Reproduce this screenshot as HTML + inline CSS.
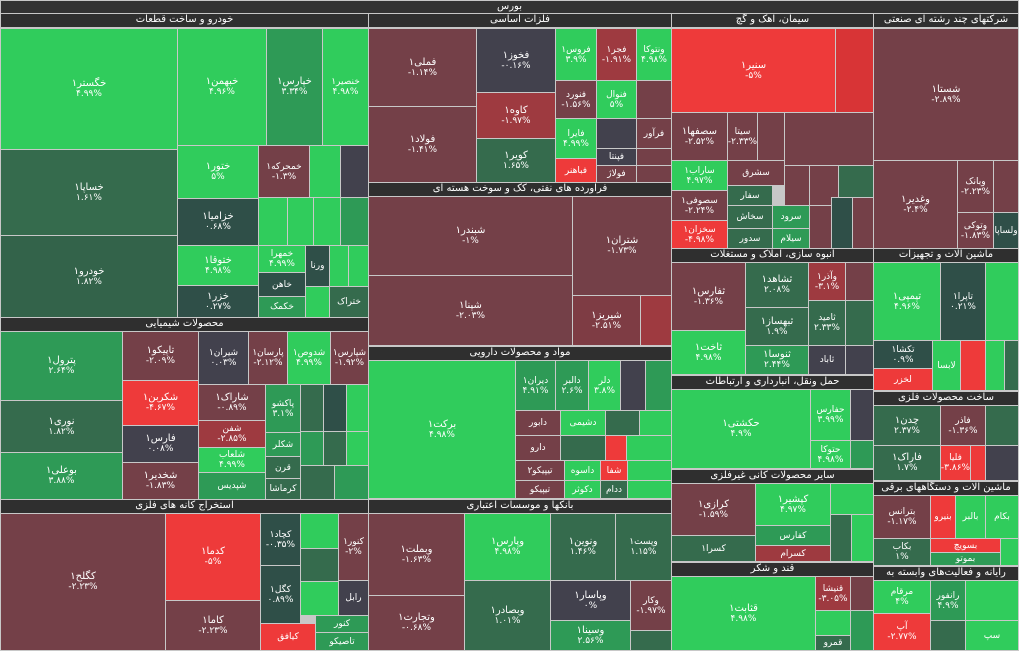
<!DOCTYPE html><html><head><meta charset="utf-8"><style>
body{margin:0;width:1019px;height:651px;background:#c8c8c8;overflow:hidden;position:relative;font-family:"DejaVu Sans","Liberation Sans",sans-serif}
div{position:absolute;box-sizing:border-box}
.c{border:1px solid #c8c8c8;display:flex;flex-direction:column;align-items:center;justify-content:center;color:#fff;font-size:9px;line-height:10px;overflow:hidden;text-align:center;direction:ltr}
.c b{font-weight:normal;font-size:10px}
.h{background:#2f2f2f;color:#fff;font-size:10px;border:1px solid #c8c8c8;text-align:center;line-height:12px;overflow:hidden;direction:rtl;white-space:nowrap}
.G{background:#30cc5c}.g2{background:#2e9a56}.g3{background:#356b4d}.g4{background:#2f4f48}.N{background:#42414d}.r3{background:#744048}.r2{background:#9e3a40}.R{background:#ee3a3a}
</style></head><body>
<div class="h" style="left:0;top:0;width:1019px;height:14px;background:#333">بورس</div>
<div class="h" style="left:0;top:13px;width:369px;height:15px">خودرو و ساخت قطعات</div>
<div class="h" style="left:0;top:317px;width:369px;height:15px">محصولات شیمیایی</div>
<div class="h" style="left:0;top:499px;width:369px;height:15px">استخراج کانه های فلزی</div>
<div class="h" style="left:368px;top:13px;width:304px;height:15px">فلزات اساسی</div>
<div class="h" style="left:368px;top:182px;width:304px;height:15px">فراورده های نفتی، کک و سوخت هسته ای</div>
<div class="h" style="left:368px;top:346px;width:304px;height:15px">مواد و محصولات دارویی</div>
<div class="h" style="left:368px;top:499px;width:304px;height:15px">بانکها و موسسات اعتباری</div>
<div class="h" style="left:671px;top:13px;width:203px;height:15px">سیمان، آهک و گچ</div>
<div class="h" style="left:873px;top:13px;width:146px;height:15px">شرکتهای چند رشته ای صنعتی</div>
<div class="h" style="left:671px;top:248px;width:203px;height:15px">انبوه سازی، املاک و مستغلات</div>
<div class="h" style="left:873px;top:248px;width:146px;height:15px">ماشین آلات و تجهیزات</div>
<div class="h" style="left:671px;top:375px;width:203px;height:15px">حمل ونقل، انبارداری و ارتباطات</div>
<div class="h" style="left:873px;top:391px;width:146px;height:15px">ساخت محصولات فلزی</div>
<div class="h" style="left:671px;top:469px;width:203px;height:15px">سایر محصولات کانی غیرفلزی</div>
<div class="h" style="left:873px;top:481px;width:146px;height:15px">ماشین آلات و دستگاههای برقی</div>
<div class="h" style="left:671px;top:562px;width:203px;height:15px">قند و شکر</div>
<div class="h" style="left:873px;top:566px;width:146px;height:15px">رایانه و فعالیت‌های وابسته به</div>

<div class="c G" style="left:0;top:28px;width:178px;height:122px"><b>خگستر۱</b>۴.۹۹%</div>
<div class="c g3" style="left:0;top:149px;width:178px;height:87px"><b>خساپا۱</b>۱.۶۱%</div>
<div class="c g3" style="left:0;top:235px;width:178px;height:83px;background:#33634a"><b>خودرو۱</b>۱.۸۲%</div>
<div class="c G" style="left:177px;top:28px;width:90px;height:118px"><b>خبهمن۱</b>۴.۹۶%</div>
<div class="c g2" style="left:266px;top:28px;width:57px;height:118px"><b>خپارس۱</b>۳.۳۴%</div>
<div class="c G" style="left:322px;top:28px;width:47px;height:118px">خنصیر۱<br>۴.۹۸%</div>
<div class="c G" style="left:177px;top:145px;width:82px;height:54px"><b>ختور۱</b>۵%</div>
<div class="c g4" style="left:177px;top:198px;width:82px;height:48px"><b>خزامیا۱</b>۰.۶۸%</div>
<div class="c G" style="left:177px;top:245px;width:82px;height:41px"><b>ختوقا۱</b>۴.۹۸%</div>
<div class="c g4" style="left:177px;top:285px;width:82px;height:33px"><b>خزر۱</b>۰.۲۷%</div>
<div class="c r3" style="left:258px;top:145px;width:52px;height:53px">خمحرکه۱<br>-۱.۳%</div>
<div class="c G" style="left:309px;top:145px;width:32px;height:53px"></div>
<div class="c N" style="left:340px;top:145px;width:29px;height:53px"></div>
<div class="c G" style="left:258px;top:197px;width:30px;height:49px"></div>
<div class="c G" style="left:287px;top:197px;width:27px;height:49px"></div>
<div class="c G" style="left:313px;top:197px;width:28px;height:49px"></div>
<div class="c g2" style="left:340px;top:197px;width:29px;height:49px"></div>
<div class="c G" style="left:258px;top:245px;width:48px;height:28px">خمهرا<br>۴.۹۹%</div>
<div class="c g4" style="left:258px;top:272px;width:48px;height:25px">خاهن</div>
<div class="c g2" style="left:258px;top:296px;width:48px;height:22px">خکمک</div>
<div class="c g4" style="left:305px;top:245px;width:25px;height:42px">ورنا</div>
<div class="c G" style="left:329px;top:245px;width:20px;height:42px"></div>
<div class="c G" style="left:348px;top:245px;width:21px;height:42px"></div>
<div class="c G" style="left:305px;top:286px;width:25px;height:32px"></div>
<div class="c g3" style="left:329px;top:286px;width:40px;height:32px">ختراک</div>

<div class="c g2" style="left:0;top:331px;width:123px;height:70px"><b>پترول۱</b>۲.۶۴%</div>
<div class="c g3" style="left:0;top:400px;width:123px;height:53px"><b>نوری۱</b>۱.۸۲%</div>
<div class="c g2" style="left:0;top:452px;width:123px;height:48px"><b>بوعلی۱</b>۳.۸۸%</div>
<div class="c r3" style="left:122px;top:331px;width:77px;height:50px"><b>تاپیکو۱</b>-۲.۰۹%</div>
<div class="c R" style="left:122px;top:380px;width:77px;height:46px"><b>شکربن۱</b>-۴.۶۷%</div>
<div class="c N" style="left:122px;top:425px;width:77px;height:38px"><b>فارس۱</b>۰.۰۸%</div>
<div class="c r3" style="left:122px;top:462px;width:77px;height:38px"><b>شخدیر۱</b>-۱.۸۳%</div>
<div class="c N" style="left:198px;top:331px;width:51px;height:54px">شیران۱<br>۰.۰۳%</div>
<div class="c r3" style="left:248px;top:331px;width:40px;height:54px">پارسان۱<br>-۲.۱۲%</div>
<div class="c G" style="left:287px;top:331px;width:44px;height:54px">شدوص۱<br>۴.۹۹%</div>
<div class="c r3" style="left:330px;top:331px;width:39px;height:54px">شپارس۱<br>-۱.۹۲%</div>
<div class="c r3" style="left:198px;top:384px;width:68px;height:37px"><b>شاراک۱</b>-۰.۸۹%</div>
<div class="c r2" style="left:198px;top:420px;width:68px;height:28px">شفن<br>-۲.۸۵%</div>
<div class="c G" style="left:198px;top:447px;width:68px;height:26px">شلعاب<br>۴.۹۹%</div>
<div class="c g2" style="left:198px;top:472px;width:68px;height:28px">شپدیس</div>
<div class="c g2" style="left:265px;top:384px;width:36px;height:49px">پاکشو<br>۳.۱%</div>
<div class="c g2" style="left:265px;top:432px;width:36px;height:25px">شکلر</div>
<div class="c g3" style="left:265px;top:456px;width:36px;height:23px">قرن</div>
<div class="c g3" style="left:265px;top:478px;width:36px;height:22px">کرماشا</div>
<div class="c g3" style="left:300px;top:384px;width:24px;height:48px"></div>
<div class="c g4" style="left:323px;top:384px;width:24px;height:48px"></div>
<div class="c G" style="left:346px;top:384px;width:23px;height:48px"></div>
<div class="c g2" style="left:300px;top:431px;width:24px;height:35px"></div>
<div class="c g3" style="left:323px;top:431px;width:24px;height:35px"></div>
<div class="c G" style="left:346px;top:431px;width:23px;height:35px"></div>
<div class="c g3" style="left:300px;top:465px;width:35px;height:35px"></div>
<div class="c g2" style="left:334px;top:465px;width:35px;height:35px"></div>

<div class="c r3" style="left:0;top:513px;width:166px;height:138px"><b>کگلح۱</b>-۲.۲۳%</div>
<div class="c R" style="left:165px;top:513px;width:96px;height:88px"><b>کدما۱</b>-۵%</div>
<div class="c r3" style="left:165px;top:600px;width:96px;height:51px"><b>کاما۱</b>-۲.۲۳%</div>
<div class="c g4" style="left:260px;top:513px;width:41px;height:53px">کچاد۱<br>-۰.۳۵%</div>
<div class="c g4" style="left:260px;top:565px;width:41px;height:59px">کگل۱<br>۰.۸۹%</div>
<div class="c R" style="left:260px;top:623px;width:56px;height:28px">کیافق</div>
<div class="c G" style="left:300px;top:513px;width:39px;height:36px"></div>
<div class="c g3" style="left:300px;top:548px;width:39px;height:34px"></div>
<div class="c G" style="left:300px;top:581px;width:39px;height:35px"></div>
<div class="c r3" style="left:338px;top:513px;width:31px;height:68px">کنور۱<br>-۲%</div>
<div class="c N" style="left:338px;top:580px;width:31px;height:36px">رابل</div>
<div class="c g2" style="left:315px;top:615px;width:54px;height:18px">کنور</div>
<div class="c g2" style="left:315px;top:632px;width:54px;height:19px">تاصیکو</div>

<div class="c r3" style="left:368px;top:28px;width:109px;height:79px"><b>فملی۱</b>-۱.۱۴%</div>
<div class="c r3" style="left:368px;top:106px;width:109px;height:77px"><b>فولاد۱</b>-۱.۴۱%</div>
<div class="c N" style="left:476px;top:28px;width:80px;height:65px"><b>فخوز۱</b>-۰.۱۶%</div>
<div class="c r2" style="left:476px;top:92px;width:80px;height:47px"><b>کاوه۱</b>-۱.۹۷%</div>
<div class="c g3" style="left:476px;top:138px;width:80px;height:45px"><b>کویر۱</b>۱.۶۵%</div>
<div class="c G" style="left:555px;top:28px;width:42px;height:53px">فروس۱<br>۳.۹%</div>
<div class="c r2" style="left:596px;top:28px;width:41px;height:53px">فجر۱<br>-۱.۹۱%</div>
<div class="c G" style="left:636px;top:28px;width:36px;height:53px">ونتوکا<br>۴.۹۸%</div>
<div class="c r3" style="left:555px;top:80px;width:42px;height:39px">فنورد<br>-۱.۵۶%</div>
<div class="c G" style="left:596px;top:80px;width:41px;height:39px">فنوال<br>۵%</div>
<div class="c r3" style="left:636px;top:80px;width:36px;height:39px"></div>
<div class="c G" style="left:555px;top:118px;width:42px;height:41px">فایرا<br>۴.۹۹%</div>
<div class="c N" style="left:596px;top:118px;width:41px;height:31px"></div>
<div class="c r3" style="left:636px;top:118px;width:36px;height:31px">فرآور</div>
<div class="c N" style="left:596px;top:148px;width:41px;height:18px">فپنتا</div>
<div class="c r3" style="left:636px;top:148px;width:36px;height:18px"></div>
<div class="c R" style="left:555px;top:158px;width:42px;height:25px">فباهنر</div>
<div class="c r3" style="left:596px;top:165px;width:41px;height:18px">فولاژ</div>
<div class="c r3" style="left:636px;top:165px;width:36px;height:18px"></div>

<div class="c r3" style="left:368px;top:196px;width:205px;height:80px"><b>شبندر۱</b>-۱%</div>
<div class="c r3" style="left:368px;top:275px;width:205px;height:71px"><b>شپنا۱</b>-۲.۰۳%</div>
<div class="c r3" style="left:572px;top:196px;width:100px;height:100px"><b>شتران۱</b>-۱.۷۳%</div>
<div class="c r3" style="left:572px;top:295px;width:69px;height:51px;background:#7e3c44"><b>شیریز۱</b>-۲.۵۱%</div>
<div class="c r2" style="left:640px;top:295px;width:32px;height:51px"></div>

<div class="c G" style="left:368px;top:360px;width:148px;height:139px"><b>برکت۱</b>۴.۹۸%</div>
<div class="c g2" style="left:515px;top:360px;width:41px;height:51px">دیران۱<br>۴.۹۱%</div>
<div class="c g2" style="left:555px;top:360px;width:34px;height:51px">دالبر<br>۲.۶%</div>
<div class="c G" style="left:588px;top:360px;width:33px;height:51px">دلر<br>۳.۸%</div>
<div class="c N" style="left:620px;top:360px;width:26px;height:51px"></div>
<div class="c g2" style="left:645px;top:360px;width:27px;height:51px"></div>
<div class="c r3" style="left:515px;top:410px;width:46px;height:26px">دابور</div>
<div class="c G" style="left:560px;top:410px;width:46px;height:26px">دشیمی</div>
<div class="c g3" style="left:605px;top:410px;width:35px;height:26px"></div>
<div class="c G" style="left:639px;top:410px;width:33px;height:26px"></div>
<div class="c r3" style="left:515px;top:435px;width:46px;height:26px">دارو</div>
<div class="c g3" style="left:560px;top:435px;width:46px;height:26px"></div>
<div class="c R" style="left:605px;top:435px;width:22px;height:26px"></div>
<div class="c G" style="left:626px;top:435px;width:46px;height:26px"></div>
<div class="c r3" style="left:515px;top:460px;width:50px;height:21px">تیپیکو۲</div>
<div class="c G" style="left:564px;top:460px;width:37px;height:21px">داسوه</div>
<div class="c R" style="left:600px;top:460px;width:28px;height:21px">شفا</div>
<div class="c G" style="left:627px;top:460px;width:45px;height:21px"></div>
<div class="c r3" style="left:515px;top:480px;width:50px;height:19px">تیپیکو</div>
<div class="c G" style="left:564px;top:480px;width:37px;height:19px">دکوثر</div>
<div class="c g3" style="left:600px;top:480px;width:28px;height:19px">ددام</div>
<div class="c G" style="left:627px;top:480px;width:45px;height:19px"></div>

<div class="c r3" style="left:368px;top:513px;width:97px;height:83px"><b>وبملت۱</b>-۱.۶۳%</div>
<div class="c r3" style="left:368px;top:595px;width:97px;height:56px"><b>وتجارت۱</b>-۰.۶۸%</div>
<div class="c G" style="left:464px;top:513px;width:87px;height:68px"><b>وپارس۱</b>۴.۹۸%</div>
<div class="c g3" style="left:464px;top:580px;width:87px;height:71px"><b>وبصادر۱</b>۱.۰۱%</div>
<div class="c g3" style="left:550px;top:513px;width:66px;height:68px"><b>ونوین۱</b>۱.۴۶%</div>
<div class="c g3" style="left:615px;top:513px;width:57px;height:68px">وپست۱<br>۱.۱۵%</div>
<div class="c N" style="left:550px;top:580px;width:81px;height:41px"><b>وپاسار۱</b>۰%</div>
<div class="c g2" style="left:550px;top:620px;width:81px;height:31px"><b>وسینا۱</b>۲.۵۶%</div>
<div class="c r3" style="left:630px;top:580px;width:42px;height:51px">وکار<br>-۱.۹۷%</div>
<div class="c g3" style="left:630px;top:630px;width:42px;height:21px"></div>

<div class="c R" style="left:671px;top:28px;width:165px;height:85px"><b>سنیر۱</b>-۵%</div>
<div class="c R" style="left:835px;top:28px;width:39px;height:85px;background:#d83436"></div>
<div class="c r3" style="left:671px;top:112px;width:57px;height:49px"><b>سصفها۱</b>-۲.۵۲%</div>
<div class="c r3" style="left:727px;top:112px;width:31px;height:49px">سیتا<br>-۲.۳۳%</div>
<div class="c r3" style="left:757px;top:112px;width:28px;height:49px"></div>
<div class="c r3" style="left:784px;top:112px;width:90px;height:54px"></div>
<div class="c G" style="left:671px;top:160px;width:57px;height:31px">ساراب۱<br>۴.۹۷%</div>
<div class="c r3" style="left:671px;top:190px;width:57px;height:31px">سصوفی۱<br>-۲.۲۴%</div>
<div class="c R" style="left:671px;top:220px;width:57px;height:29px">سخزان۱<br>-۴.۹۸%</div>
<div class="c r3" style="left:727px;top:160px;width:58px;height:26px">سشرق</div>
<div class="c g3" style="left:727px;top:185px;width:46px;height:21px">سفار</div>
<div class="c g3" style="left:727px;top:205px;width:46px;height:24px">سخاش</div>
<div class="c g3" style="left:727px;top:228px;width:46px;height:21px">سدور</div>
<div class="c r3" style="left:784px;top:165px;width:26px;height:41px"></div>
<div class="c r3" style="left:809px;top:165px;width:30px;height:41px"></div>
<div class="c g3" style="left:838px;top:165px;width:36px;height:33px"></div>
<div class="c g2" style="left:772px;top:205px;width:38px;height:24px">سرود</div>
<div class="c g2" style="left:772px;top:228px;width:38px;height:21px">سیلام</div>
<div class="c r3" style="left:809px;top:205px;width:23px;height:44px"></div>
<div class="c g4" style="left:831px;top:197px;width:22px;height:52px"></div>
<div class="c r3" style="left:852px;top:197px;width:22px;height:52px"></div>

<div class="c r3" style="left:873px;top:28px;width:146px;height:133px"><b>شستا۱</b>-۲.۸۹%</div>
<div class="c r3" style="left:873px;top:160px;width:85px;height:89px"><b>وغدیر۱</b>-۲.۴%</div>
<div class="c r3" style="left:957px;top:160px;width:37px;height:53px">وبانک<br>-۲.۲۳%</div>
<div class="c r3" style="left:993px;top:160px;width:26px;height:53px"></div>
<div class="c r3" style="left:957px;top:212px;width:37px;height:37px">وتوکی<br>-۱.۸۳%</div>
<div class="c g4" style="left:993px;top:212px;width:26px;height:37px">ولساپا</div>

<div class="c r3" style="left:671px;top:262px;width:75px;height:69px"><b>ثفارس۱</b>-۱.۳۶%</div>
<div class="c G" style="left:671px;top:330px;width:75px;height:45px"><b>ثاخت۱</b>۴.۹۸%</div>
<div class="c g3" style="left:745px;top:262px;width:64px;height:46px"><b>ثشاهد۱</b>۲.۰۸%</div>
<div class="c g3" style="left:745px;top:307px;width:64px;height:39px"><b>ثبهساز۱</b>۱.۹%</div>
<div class="c g2" style="left:745px;top:345px;width:64px;height:30px"><b>ثنوسا۱</b>۲.۴۴%</div>
<div class="c r2" style="left:808px;top:262px;width:38px;height:39px">وآذر۱<br>-۳.۱%</div>
<div class="c r3" style="left:845px;top:262px;width:29px;height:39px"></div>
<div class="c g3" style="left:808px;top:300px;width:38px;height:46px">ثامید<br>۲.۳۳%</div>
<div class="c g3" style="left:845px;top:300px;width:29px;height:46px"></div>
<div class="c N" style="left:808px;top:345px;width:38px;height:30px">ثاباد</div>
<div class="c N" style="left:845px;top:345px;width:29px;height:30px"></div>

<div class="c G" style="left:873px;top:262px;width:68px;height:79px"><b>تپمپی۱</b>۴.۹۶%</div>
<div class="c g4" style="left:940px;top:262px;width:46px;height:79px">تاپرا۱<br>۰.۲۱%</div>
<div class="c G" style="left:985px;top:262px;width:34px;height:79px"></div>
<div class="c g4" style="left:873px;top:340px;width:60px;height:29px">تکشا۱<br>۰.۹%</div>
<div class="c R" style="left:873px;top:368px;width:60px;height:23px">لخزر</div>
<div class="c G" style="left:932px;top:340px;width:29px;height:51px">لابسا</div>
<div class="c R" style="left:960px;top:340px;width:26px;height:51px"></div>
<div class="c G" style="left:985px;top:340px;width:20px;height:51px"></div>
<div class="c g3" style="left:1004px;top:340px;width:15px;height:51px"></div>

<div class="c G" style="left:671px;top:389px;width:140px;height:80px"><b>حکشتی۱</b>۴.۹%</div>
<div class="c G" style="left:810px;top:389px;width:41px;height:52px">حفارس<br>۳.۹۹%</div>
<div class="c G" style="left:810px;top:440px;width:41px;height:29px">حتوکا<br>۴.۹۸%</div>
<div class="c N" style="left:850px;top:389px;width:24px;height:52px"></div>
<div class="c g2" style="left:850px;top:440px;width:24px;height:29px"></div>

<div class="c g3" style="left:873px;top:405px;width:68px;height:41px"><b>چدن۱</b>۲.۳۷%</div>
<div class="c g3" style="left:873px;top:445px;width:68px;height:36px"><b>فاراک۱</b>۱.۷%</div>
<div class="c r3" style="left:940px;top:405px;width:46px;height:41px">فاذر<br>-۱.۳۶%</div>
<div class="c R" style="left:940px;top:445px;width:31px;height:36px">فلیا<br>-۳.۸۶%</div>
<div class="c R" style="left:970px;top:445px;width:16px;height:36px"></div>
<div class="c g3" style="left:985px;top:405px;width:34px;height:41px"></div>
<div class="c N" style="left:985px;top:445px;width:34px;height:36px"></div>

<div class="c r3" style="left:671px;top:483px;width:85px;height:53px"><b>کرازی۱</b>-۱.۵۹%</div>
<div class="c g3" style="left:671px;top:535px;width:85px;height:27px">کسرا۱</div>
<div class="c G" style="left:755px;top:483px;width:76px;height:43px"><b>کپشیر۱</b>۴.۹۷%</div>
<div class="c g2" style="left:755px;top:525px;width:76px;height:21px">کفارس</div>
<div class="c r2" style="left:755px;top:545px;width:76px;height:17px">کسرام</div>
<div class="c G" style="left:830px;top:483px;width:44px;height:32px"></div>
<div class="c g3" style="left:830px;top:514px;width:22px;height:48px"></div>
<div class="c G" style="left:851px;top:514px;width:23px;height:48px"></div>

<div class="c r3" style="left:873px;top:495px;width:58px;height:44px">بترانس<br>-۱.۱۷%</div>
<div class="c R" style="left:930px;top:495px;width:26px;height:44px">بنیرو</div>
<div class="c G" style="left:955px;top:495px;width:31px;height:44px">بالبر</div>
<div class="c G" style="left:985px;top:495px;width:34px;height:44px">بکام</div>
<div class="c g3" style="left:873px;top:538px;width:58px;height:28px">بکاب<br>۱%</div>
<div class="c R" style="left:930px;top:538px;width:71px;height:15px">بسویچ</div>
<div class="c g2" style="left:930px;top:552px;width:71px;height:14px">بموتو</div>
<div class="c G" style="left:1000px;top:538px;width:19px;height:28px"></div>

<div class="c G" style="left:671px;top:576px;width:145px;height:75px"><b>قثابت۱</b>۴.۹۸%</div>
<div class="c r2" style="left:815px;top:576px;width:36px;height:35px">قنیشا<br>-۳.۰۵%</div>
<div class="c r3" style="left:850px;top:576px;width:24px;height:35px"></div>
<div class="c G" style="left:815px;top:610px;width:36px;height:26px"></div>
<div class="c g3" style="left:815px;top:635px;width:36px;height:16px">قمرو</div>
<div class="c g2" style="left:850px;top:610px;width:24px;height:41px"></div>

<div class="c G" style="left:873px;top:580px;width:58px;height:34px">مرقام<br>۴%</div>
<div class="c R" style="left:873px;top:613px;width:58px;height:38px">آپ<br>-۲.۷۷%</div>
<div class="c g2" style="left:930px;top:580px;width:36px;height:41px">رانفور<br>۴.۹%</div>
<div class="c G" style="left:965px;top:580px;width:54px;height:41px"></div>
<div class="c g3" style="left:930px;top:620px;width:36px;height:31px"></div>
<div class="c G" style="left:965px;top:620px;width:54px;height:31px">سپ</div>
</body></html>
